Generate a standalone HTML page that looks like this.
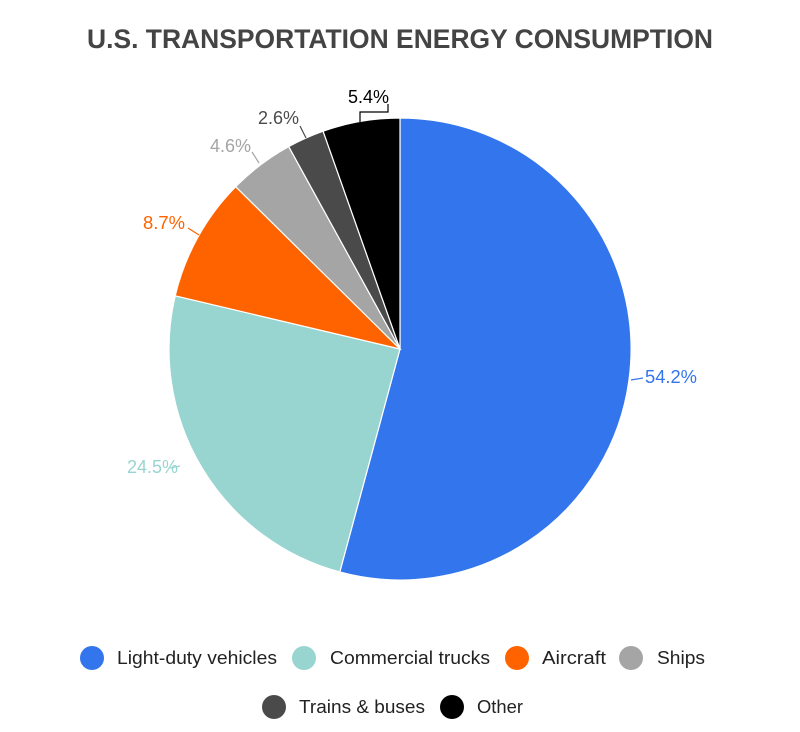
<!DOCTYPE html>
<html><head><meta charset="utf-8"><style>
html,body{margin:0;padding:0;background:#fff;}
svg{display:block;font-family:"Liberation Sans",sans-serif;}
</style></head><body>
<svg width="800" height="732" viewBox="0 0 800 732" xmlns="http://www.w3.org/2000/svg">
<text x="400" y="48" text-anchor="middle" font-size="27" font-weight="bold" fill="#444" textLength="626" lengthAdjust="spacingAndGlyphs">U.S. TRANSPORTATION ENERGY CONSUMPTION</text>
<g stroke="#fff" stroke-width="1.2">
<path d="M400,349 L400,118 A231,231 0 1,1 339.8,572 Z" fill="#3375EC"/>
<path d="M400,349 L339.8,572 A231,231 0 0,1 175.2,295.8 Z" fill="#98D5D0"/>
<path d="M400,349 L175.2,295.8 A231,231 0 0,1 235.7,186.7 Z" fill="#FF6300"/>
<path d="M400,349 L235.7,186.7 A231,231 0 0,1 288.7,146.6 Z" fill="#A5A5A5"/>
<path d="M400,349 L288.7,146.6 A231,231 0 0,1 323.1,131.2 Z" fill="#4A4A4A"/>
<path d="M400,349 L323.1,131.2 A231,231 0 0,1 400,118 Z" fill="#000"/>
</g>
<g fill="none" stroke-width="1.2">
<path d="M631,380 L643,378" stroke="#3375EC"/>
<path d="M180,466 L170,468" stroke="#98D5D0"/>
<path d="M199,235 L188,228" stroke="#FF6300"/>
<path d="M259,163 L252,152" stroke="#A5A5A5"/>
<path d="M306,138 L300,126" stroke="#4A4A4A"/>
<path d="M360,122 L360,112 L388,112 L388,104" stroke="#000"/>
</g>
<g font-size="18">
<text x="645" y="383" fill="#3375EC" textLength="52" lengthAdjust="spacingAndGlyphs">54.2%</text>
<text x="127" y="473" fill="#98D5D0" textLength="51" lengthAdjust="spacingAndGlyphs">24.5%</text>
<text x="143" y="229" fill="#FF6300" textLength="42" lengthAdjust="spacingAndGlyphs">8.7%</text>
<text x="210" y="152" fill="#A5A5A5" textLength="41" lengthAdjust="spacingAndGlyphs">4.6%</text>
<text x="258" y="124" fill="#4A4A4A" textLength="41" lengthAdjust="spacingAndGlyphs">2.6%</text>
<text x="348" y="103" fill="#000" textLength="41" lengthAdjust="spacingAndGlyphs">5.4%</text>
</g>
<g font-size="18" fill="#222" lengthAdjust="spacingAndGlyphs">
<circle cx="92" cy="658" r="12" fill="#3375EC"/><text x="117" y="664" textLength="160" lengthAdjust="spacingAndGlyphs">Light-duty vehicles</text>
<circle cx="304" cy="658" r="12" fill="#98D5D0"/><text x="330" y="664" textLength="160" lengthAdjust="spacingAndGlyphs">Commercial trucks</text>
<circle cx="517" cy="658" r="12" fill="#FF6300"/><text x="542" y="664" textLength="64" lengthAdjust="spacingAndGlyphs">Aircraft</text>
<circle cx="631" cy="658" r="12" fill="#A5A5A5"/><text x="657" y="664" textLength="48" lengthAdjust="spacingAndGlyphs">Ships</text>
<circle cx="274" cy="707" r="12" fill="#4A4A4A"/><text x="299" y="713" textLength="126" lengthAdjust="spacingAndGlyphs">Trains &amp; buses</text>
<circle cx="452" cy="707" r="12" fill="#000"/><text x="477" y="713" textLength="46" lengthAdjust="spacingAndGlyphs">Other</text>
</g>
</svg>
</body></html>
